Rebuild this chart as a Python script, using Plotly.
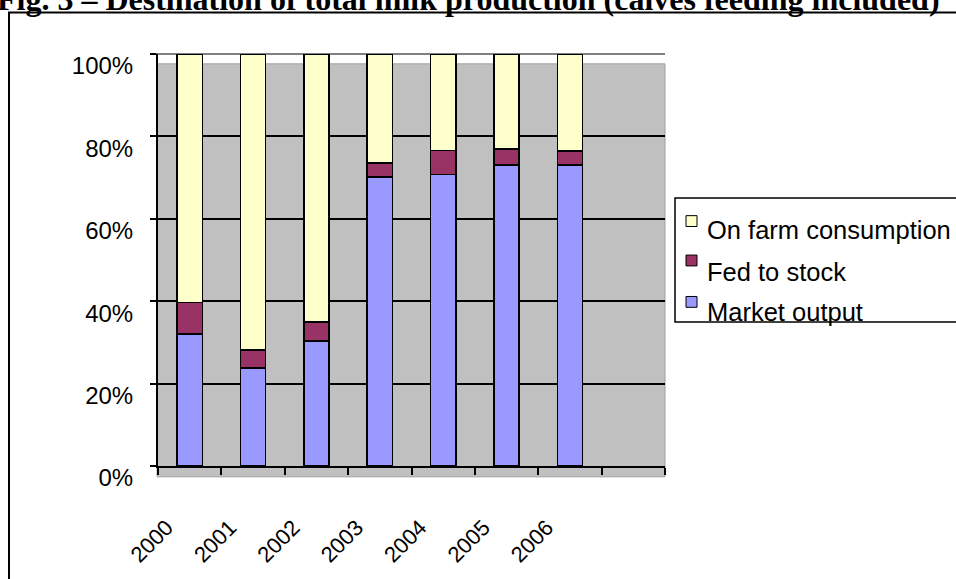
import plotly.graph_objects as go

# Share of total milk production by destination, % of total
years = ["2000", "2001", "2002", "2003", "2004", "2005", "2006"]
market_output = [32.0, 23.8, 30.4, 70.1, 70.7, 73.0, 73.0]
fed_to_stock = [7.7, 4.4, 4.5, 3.5, 5.9, 4.0, 3.5]
on_farm = [60.3, 71.8, 65.1, 26.4, 23.4, 23.0, 23.5]

series_names = ["Market output", "Fed to stock", "On farm consumption"]
series_values = [market_output, fed_to_stock, on_farm]
series_colors = ["#9999FF", "#993366", "#FFFFCC"]

y_ticks = [0, 20, 40, 60, 80, 100]
y_tick_labels = [f"{v}%" for v in y_ticks]
title_text = "Fig. 3 – Destination of total milk production (calves feeding included)"

W, H = 956, 579
L, R, T, B = 158, 291, 54, 107
PW, PH = W - L - R, H - T - B


def px(x):
    return (x - L) / PW


def py(y):
    return (H - B - y) / PH


SANS = "Liberation Sans, Arial, sans-serif"
SERIF = "Liberation Serif, Times New Roman, serif"

fig = go.Figure()
positions = list(range(len(years)))
for name, vals, col in zip(series_names, series_values, series_colors):
    fig.add_trace(go.Bar(
        x=positions, y=vals, name=name, width=0.4,
        marker=dict(color=col, line=dict(color="black", width=1.5)),
        showlegend=False,
    ))

shapes = [
    # grey wall behind the bars
    dict(type="rect", xref="paper", yref="paper", layer="below",
         x0=px(157), x1=px(665), y0=py(483), y1=py(64),
         fillcolor="#C0C0C0", line=dict(color="#A0A0A0", width=1)),
    # grey top edge at 100%
    dict(type="line", xref="paper", yref="paper", layer="between",
         x0=px(152), x1=px(665), y0=1, y1=1,
         line=dict(color="#808080", width=2)),
    # outer frame
    dict(type="rect", xref="paper", yref="paper", layer="below",
         x0=px(9), x1=px(980), y0=py(600), y1=py(12),
         line=dict(color="black", width=2), fillcolor="rgba(0,0,0,0)"),
    # legend box
    dict(type="rect", xref="paper", yref="paper", layer="above",
         x0=px(675), x1=px(980), y0=py(326), y1=py(200),
         line=dict(color="black", width=1.5), fillcolor="rgba(255,255,255,0)"),
]

annotations = [
    dict(text="<b>" + title_text + "</b>", xref="paper", yref="paper",
         x=px(468), y=py(-1.3), xanchor="center", yanchor="middle",
         showarrow=False, font=dict(family=SERIF, size=32, color="black")),
]

# legend entries, top to bottom
legend_rows = [(series_names[2], series_colors[2], 223.5, 233.0),
               (series_names[1], series_colors[1], 263.5, 275.5),
               (series_names[0], series_colors[0], 305.5, 316.0)]
for name, col, sym_c, txt_c in legend_rows:
    shapes.append(dict(type="rect", xref="paper", yref="paper", layer="above",
                       x0=px(686), x1=px(697), y0=py(sym_c + 5.5), y1=py(sym_c - 5.5),
                       fillcolor=col, line=dict(color="black", width=1)))
    annotations.append(dict(text=name, xref="paper", yref="paper",
                            x=px(705), y=py(txt_c), xanchor="left", yanchor="middle",
                            showarrow=False, font=dict(family=SANS, size=25.5, color="black")))

fig.update_layout(
    width=W, height=H,
    margin=dict(l=L, r=R, t=T, b=B, pad=0),
    paper_bgcolor="white", plot_bgcolor="rgba(0,0,0,0)",
    barmode="stack", showlegend=False,
    shapes=shapes, annotations=annotations,
)

fig.update_xaxes(
    range=[-0.5, 7.5], tickmode="array", tickvals=positions, ticktext=years,
    tickangle=-45, ticks="", showgrid=False, zeroline=False,
    showline=True, linecolor="black", linewidth=2,
    minor=dict(tickmode="array", tickvals=[i - 0.5 for i in range(9)],
               ticks="outside", ticklen=7, tickwidth=1.5, tickcolor="black", showgrid=False),
    tickfont=dict(family=SANS, size=22, color="black"),
    ticklabelshift=-23, ticklabelstandoff=38,
)

fig.update_yaxes(
    range=[0, 100], tickmode="array", tickvals=y_ticks, ticktext=y_tick_labels,
    ticks="outside", ticklen=6, tickwidth=1.5, tickcolor="black",
    showgrid=True, gridcolor="black", gridwidth=1.5, zeroline=False,
    showline=True, linecolor="black", linewidth=2,
    tickfont=dict(family=SANS, size=24, color="black"),
    ticklabelshift=12, ticklabelstandoff=12,
)

fig.write_html("out.html")
